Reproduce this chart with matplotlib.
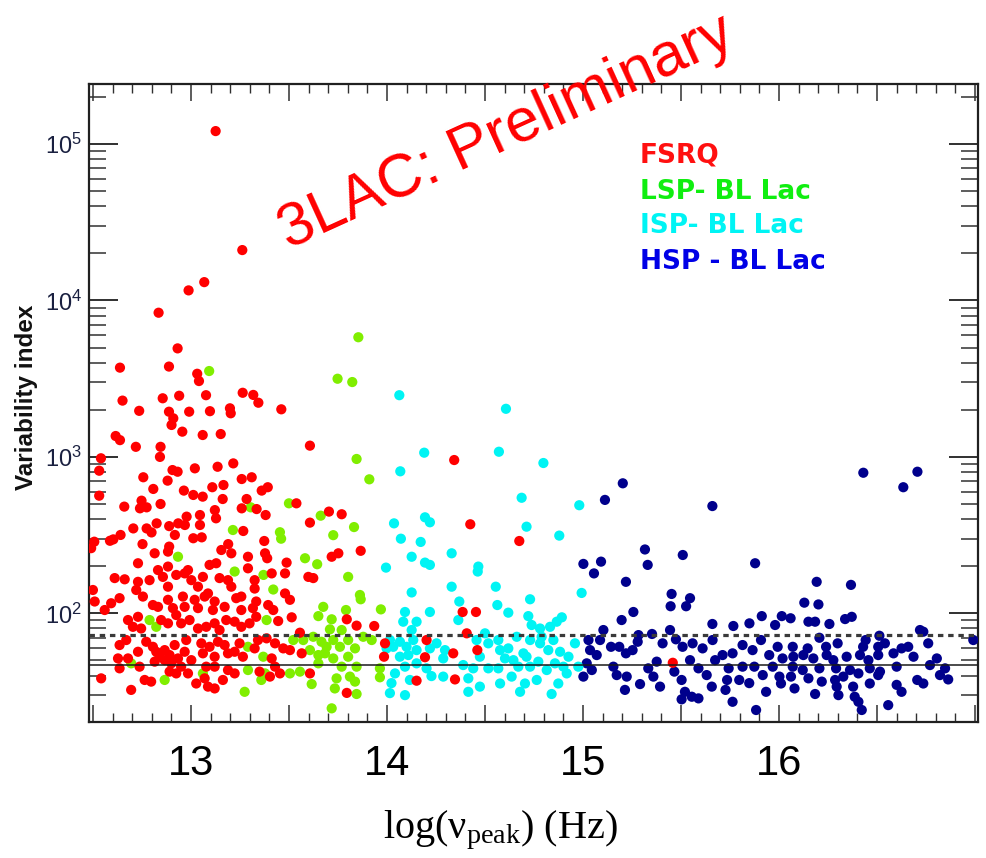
import matplotlib
matplotlib.use("Agg")
import matplotlib.pyplot as plt
from matplotlib.ticker import MultipleLocator, LogLocator, NullFormatter, FuncFormatter
import numpy as np

# (log10 nu_peak [Hz], variability index) for each blazar class
fsrq = [
    (13.126, 121000), (13.262, 21000), (12.988, 11600), (13.068, 13100), (12.835, 8350),
    (12.932, 4940), (12.638, 3720), (12.888, 3780), (13.032, 3400), (13.041, 3055),
    (12.651, 2290), (12.856, 2370), (12.940, 2460), (13.077, 2480), (13.264, 2570),
    (13.318, 2490), (13.344, 2220), (12.736, 1970), (12.888, 1945), (12.991, 1945),
    (13.097, 1960), (13.199, 2045), (13.203, 1900), (13.461, 2015), (12.910, 1765),
    (12.901, 1600), (12.956, 1450), (13.060, 1380), (13.152, 1400), (12.616, 1360),
    (12.638, 1280), (12.719, 1160), (12.845, 1160), (12.842, 1000), (12.541, 980),
    (12.532, 816), (12.532, 565), (12.757, 741), (12.906, 824), (12.932, 804),
    (12.881, 705), (13.020, 845), (13.136, 865), (13.216, 909), (13.259, 722),
    (13.310, 741), (12.808, 624), (12.964, 609), (13.012, 571), (13.109, 640),
    (13.166, 661), (13.060, 557), (13.162, 538), (13.361, 609), (13.392, 640),
    (13.284, 538), (12.748, 525), (12.845, 500), (12.740, 469), (12.774, 476),
    (12.660, 481), (13.538, 505), (13.335, 464), (13.381, 425), (13.259, 469),
    (13.122, 457), (13.046, 425), (12.978, 415), (12.969, 367), (13.046, 367),
    (13.128, 405), (12.825, 376), (12.935, 376), (12.889, 361), (12.774, 349),
    (12.706, 349), (12.799, 329), (13.267, 336), (12.641, 317), (12.604, 297),
    (12.587, 291), (12.507, 287), (12.918, 317), (13.012, 302), (13.055, 306),
    (13.374, 290), (12.753, 277), (13.190, 277), (12.889, 267),
    (12.491, 261), (12.815, 242), (12.883, 248), (13.155, 254), (13.206, 242),
    (13.291, 230), (12.730, 209), (12.832, 189), (12.883, 199), (12.985, 189),
    (13.095, 204), (13.129, 209), (13.291, 194), (12.611, 168), (12.662, 165),
    (12.730, 159), (12.721, 141), (12.789, 163), (12.857, 171), (12.883, 148),
    (12.925, 176), (12.968, 180), (13.002, 163), (13.036, 148), (13.061, 171),
    (13.087, 134), (13.146, 168), (13.189, 163), (13.206, 148), (13.231, 125),
    (13.257, 128), (13.325, 163), (13.325, 144), (12.500, 141), (12.509, 119),
    (12.560, 105), (12.593, 116), (12.636, 125), (12.755, 128), (12.806, 113),
    (12.832, 110), (12.883, 122), (12.908, 108), (12.959, 128), (12.968, 110),
    (13.019, 122), (13.036, 108), (13.070, 128), (13.121, 119), (13.112, 105),
    (13.172, 110), (13.257, 105), (13.316, 108), (13.333, 119),
    (12.679, 90.6), (12.730, 95), (12.704, 82), (12.746, 80), (12.848, 90.6),
    (12.883, 86.3), (12.925, 97.5), (12.950, 86.3), (12.993, 90.6), (13.036, 80),
    (13.078, 82), (13.121, 86.3), (13.146, 78.2), (13.180, 90.6), (13.223, 88.4),
    (13.257, 82), (13.299, 86.3), (13.333, 95),
    (12.636, 62.7), (12.670, 67.5), (12.628, 51.5), (12.679, 51.5), (12.730, 56.8),
    (12.772, 65.8), (12.806, 61.1), (12.823, 56.8), (12.840, 52.8), (12.866, 58.2),
    (12.891, 54.1), (12.917, 62.7), (12.934, 51.5), (12.866, 50.2), (12.815, 49.1),
    (12.900, 47.9), (12.976, 67.5), (12.968, 56.8), (13.002, 50.2), (13.053, 64.3),
    (13.061, 55.5), (13.095, 61.1), (13.121, 52.8), (13.138, 65.8), (13.172, 62.7),
    (13.189, 55.5), (13.223, 56.8), (13.248, 64.3), (13.265, 52.8), (13.325, 59.7),
    (13.342, 67.5),
    (12.542, 38.4), (12.636, 44.5), (12.695, 32.4), (12.738, 45.6), (12.764, 37.5),
    (12.797, 36.6), (12.891, 42.4), (12.925, 41.3), (12.985, 41.3), (12.950, 45.6),
    (13.027, 35.6), (13.070, 38.4), (13.087, 34), (13.121, 33.1), (13.078, 45.6),
    (13.121, 45.6), (13.163, 37.5), (13.189, 43.4), (13.223, 41.3), (13.350, 42.4),
    (13.607, 1180), (14.343, 955), (13.704, 447), (13.769, 430), (13.607, 380),
    (14.425, 371), (14.675, 290),
    (13.378, 242), (13.389, 225), (13.488, 211), (13.480, 180), (13.412, 180),
    (13.599, 171), (13.624, 168), (13.718, 230), (13.752, 242), (13.866, 251),
    (13.480, 134), (13.505, 122), (13.394, 113), (13.420, 105), (13.795, 91.6),
    (13.445, 89.3), (13.514, 94.3), (13.845, 83.4), (13.935, 83), (13.556, 75.2),
    (13.386, 69.2), (13.429, 64.3), (13.471, 59.7), (13.505, 58.2), (13.565, 55.5),
    (13.412, 51.5), (13.429, 45.6), (13.403, 39.4), (13.454, 41.3), (13.607, 41.3),
    (13.795, 31), (13.990, 64.3), (13.985, 52.8), (14.202, 67.5), (14.194, 52.4),
    (14.151, 37.1),
    (14.386, 102), (14.454, 102), (14.407, 74.5), (14.461, 58.2), (14.338, 55.5),
    (14.347, 37.8), (15.458, 48.3),
]

lsp_bllac = [
    (13.093, 3540), (12.934, 230), (13.223, 185), (12.789, 90.6), (12.823, 82),
    (13.291, 61.1), (12.695, 47.9), (12.866, 37.5), (13.061, 41.3), (13.291, 43.4),
    (13.274, 31.5), (13.359, 37.5), (13.214, 341), (13.305, 476), (13.454, 330),
    (13.460, 300), (13.500, 505), (13.370, 176),
    (13.854, 5820), (13.748, 3160), (13.823, 3010), (13.845, 970), (13.910, 719),
    (13.662, 421), (13.832, 356), (13.726, 316),
    (13.582, 225), (13.644, 206), (13.802, 171), (13.420, 142), (13.862, 131),
    (13.866, 123), (13.675, 110), (13.650, 96), (13.718, 91.6), (13.791, 105),
    (13.969, 106), (13.386, 90.6), (13.709, 79), (13.769, 78.2),
    (13.522, 67.5), (13.573, 67.5), (13.624, 70.8), (13.666, 65.8), (13.692, 61.1),
    (13.726, 67.5), (13.760, 61.1), (13.802, 67.5), (13.837, 59.7), (13.879, 70.8),
    (13.922, 67.5), (13.607, 58.2), (13.650, 54.1), (13.684, 55.5), (13.726, 51.5),
    (13.769, 45.6), (13.802, 52.8), (13.845, 45.6), (13.369, 52.8), (13.378, 41.3),
    (13.505, 41.3), (13.556, 42.4), (13.650, 47.9), (13.616, 35.3), (13.743, 38.4),
    (13.811, 39.4), (13.837, 36.6), (13.845, 30.5), (13.734, 33.1), (13.718, 24.7),
    (13.964, 44.5), (13.964, 39),
]

isp_bllac = [
    (14.063, 2480), (14.607, 2030), (14.190, 1064), (14.068, 809), (14.571, 1079),
    (14.798, 914), (14.687, 548), (14.981, 491), (14.036, 376), (14.194, 411),
    (14.219, 382), (14.071, 300), (14.712, 358), (14.879, 314), (14.172, 286),
    (13.995, 196), (14.126, 230), (14.194, 211), (14.219, 204), (14.126, 136),
    (14.092, 102), (14.083, 88.4), (14.151, 88.4), (14.219, 102), (14.126, 78.2),
    (14.015, 67.5), (14.032, 61.1), (14.066, 65.8), (14.100, 61.1), (14.134, 67.5),
    (14.151, 58.2), (14.219, 59.7), (14.253, 64.3), (14.066, 52.8), (14.109, 54.1),
    (14.092, 45.6), (14.151, 47.9), (14.202, 44.5), (14.041, 41.3), (14.023, 35.8),
    (14.015, 30.9), (14.092, 30), (14.117, 37.5), (14.227, 39.7), (13.998, 59.7),
    (14.330, 242), (14.466, 199), (14.463, 185), (14.330, 148), (14.555, 148),
    (14.369, 119), (14.730, 123), (14.563, 113), (14.619, 101), (14.721, 96),
    (14.364, 90.6), (14.738, 84.2), (14.781, 80), (14.832, 82), (14.866, 88.4),
    (14.892, 94.3), (14.993, 135),
    (14.500, 74.5), (14.457, 67.5), (14.517, 64.3), (14.568, 67.5), (14.577, 58.2),
    (14.619, 59.7), (14.662, 70.8), (14.696, 55.5), (14.730, 67.5), (14.781, 64.3),
    (14.789, 70.8), (14.823, 58.2), (14.849, 67.5), (14.883, 56.8), (14.926, 52.8),
    (14.959, 64.3), (14.296, 58.2), (14.287, 51.5), (14.389, 46.7), (14.440, 44.5),
    (14.474, 52.8), (14.517, 44.5), (14.568, 44.5), (14.602, 51.5), (14.645, 50.2),
    (14.670, 45.6), (14.712, 52.8), (14.730, 45.6), (14.772, 49.1), (14.815, 43.4),
    (14.857, 47.9), (14.900, 45.6), (14.917, 41.3), (14.976, 45.6), (14.287, 39.4),
    (14.415, 38.4), (14.415, 31.5), (14.474, 34), (14.577, 35.6), (14.636, 39.4),
    (14.679, 31.5), (14.704, 35.6), (14.764, 37.5), (14.840, 30.5), (14.874, 35.6),
]

hsp_bllac = [
    (15.203, 678), (15.112, 531), (16.430, 792), (16.706, 804), (16.634, 640),
    (15.660, 485),
    (15.002, 207), (15.092, 214), (15.056, 180), (15.028, 67.5), (15.036, 58.2),
    (15.104, 78.2), (15.087, 67.5), (15.070, 54.1), (15.019, 47.9), (15.045, 43.4),
    (15.002, 39.4),
    (15.316, 256), (15.330, 204), (15.509, 236), (15.878, 209), (15.219, 159),
    (15.452, 133), (15.546, 125), (15.447, 111), (15.526, 111), (15.257, 102),
    (15.197, 90.6), (15.660, 85.5), (15.767, 83), (15.849, 86.3), (15.912, 96),
    (15.980, 84.2), (16.014, 96), (15.444, 78.2), (15.352, 73.8), (15.283, 72.6),
    (15.143, 61.1), (15.185, 61.1), (15.219, 55.5), (15.253, 58.2), (15.279, 65.8),
    (15.406, 64.3), (15.474, 68.2), (15.508, 61.1), (15.559, 64.3), (15.610, 59.7),
    (15.661, 67.5), (15.712, 54.1), (15.763, 55.5), (15.814, 62.7), (15.865, 58.2),
    (15.908, 67.5), (15.950, 54.1), (15.993, 61.1), (16.018, 51.5),
    (15.155, 45.6), (15.172, 40.3), (15.223, 39.4), (15.214, 32.4), (15.291, 35.3),
    (15.333, 44.5), (15.359, 39.4), (15.393, 34), (15.376, 49.1), (15.466, 42.4),
    (15.503, 37.5), (15.520, 31.5), (15.503, 28.2), (15.555, 29.3), (15.589, 28.6),
    (15.546, 50.2), (15.589, 44.5), (15.631, 40.3), (15.657, 34), (15.674, 50.2),
    (15.743, 44.5), (15.735, 37.5), (15.727, 32.4), (15.763, 27.2), (15.797, 37.5),
    (15.814, 45.6), (15.848, 35.8), (15.874, 45.6), (15.934, 31.5), (15.883, 24.1),
    (15.917, 40.3), (15.968, 45.6), (16.002, 39.4), (16.010, 35.6),
    (16.192, 159), (16.367, 152), (16.129, 117), (16.201, 114), (16.059, 93),
    (16.150, 88.4), (16.184, 88.4), (16.257, 85.5), (16.337, 91.9), (16.371, 95),
    (16.719, 78.2), (16.736, 76.3), (16.512, 71.9), (16.206, 69.8), (16.991, 67.5),
    (16.442, 67.5), (16.070, 61.1), (16.146, 59.7), (16.240, 61.1), (16.299, 64.3),
    (16.429, 61.1), (16.506, 61.1), (16.540, 64.3), (16.625, 59.7), (16.659, 61.1),
    (16.761, 64.3), (16.584, 55.5), (16.686, 52.8), (16.805, 51.5), (16.073, 52.8),
    (16.124, 54.1), (16.175, 51.5), (16.243, 54.1), (16.277, 50.2), (16.345, 52.8),
    (16.413, 54.1), (16.456, 50.2), (16.506, 54.1), (16.070, 45.6), (16.121, 43.4),
    (16.206, 44.5), (16.291, 44.5), (16.362, 43.4), (16.463, 44.5), (16.515, 42.4),
    (16.600, 45.6), (16.770, 46.7), (16.847, 44.5), (16.061, 39.4), (16.150, 38.4),
    (16.218, 36.6), (16.286, 37.5), (16.328, 39.4), (16.405, 41.3), (16.506, 40.3),
    (16.821, 40.3), (16.863, 37.8), (16.705, 37.5), (16.736, 35.6), (16.600, 34.9),
    (16.625, 31.5), (16.079, 33.1), (16.184, 30.5), (16.294, 34), (16.303, 30),
    (16.378, 34), (16.386, 29.3), (16.405, 27.2), (16.422, 24.1), (16.557, 25.9),
    (16.463, 35.6),
]

class_names = ["FSRQ", "LSP- BL Lac", "ISP- BL Lac", "HSP - BL Lac"]
marker_colors = ["#ff0000", "#80ee00", "#00f4f4", "#00008c"]
label_colors = ["#ff1010", "#10ee10", "#00f4f4", "#0000e6"]

# significance thresholds of the variability index
var_threshold_99 = 72.44
var_threshold_dof = 47.0

x_tick_values = [13, 14, 15, 16]

fig = plt.figure(figsize=(9.86, 8.58), dpi=100)
fig.patch.set_facecolor("white")
ax = fig.add_axes([89 / 986, 1 - 722 / 858, (978 - 89) / 986, (722 - 84) / 858])

series = [fsrq, lsp_bllac, isp_bllac, hsp_bllac]
z_order = [6, 5, 4, 3]
for pts, col, z in zip(series, marker_colors, z_order):
    arr = np.array(pts, dtype=float)
    ax.scatter(arr[:, 0], arr[:, 1], s=54, c=col, edgecolors="none", zorder=z)

ax.axhline(var_threshold_99, color="#3a3a3a", lw=2.3, ls=(0, (1.7, 1.5)), zorder=8)
ax.axhline(var_threshold_dof, color="#1a1a1a", lw=1.1, zorder=8)

ax.set_yscale("log")
ax.set_xlim(12.48, 17.015)
ax.set_ylim(20.2, 2.42e5)

# ticks
ax.xaxis.set_major_locator(MultipleLocator(0.5))
ax.xaxis.set_minor_locator(MultipleLocator(0.1))
ax.xaxis.set_major_formatter(FuncFormatter(
    lambda v, p: f"{int(round(v))}" if any(abs(v - t) < 1e-6 for t in x_tick_values) else ""))
ax.yaxis.set_major_locator(LogLocator(base=10))
ax.yaxis.set_minor_locator(LogLocator(base=10, subs=np.arange(2, 10)))
ax.yaxis.set_minor_formatter(NullFormatter())

ax.tick_params(axis="both", which="both", direction="in", top=True, right=True,
               color="#303030")
ax.tick_params(axis="x", which="major", length=12, width=1.1, pad=16,
               labelsize=30)
ax.tick_params(axis="x", which="minor", length=6.5, width=1.0)
ax.tick_params(axis="y", which="major", length=21, width=1.4, pad=5,
               labelsize=17, labelcolor="#1a2040")
ax.tick_params(axis="y", which="minor", length=12, width=1.1)
for lab in ax.get_xticklabels():
    lab.set_fontfamily("Liberation Sans")
for lab in ax.get_yticklabels():
    lab.set_fontfamily("Liberation Sans")

for sp in ax.spines.values():
    sp.set_linewidth(1.6)
    sp.set_color("#202020")

# axis titles
plt.rcParams["mathtext.fontset"] = "custom"
plt.rcParams["mathtext.rm"] = "Liberation Serif"
plt.rcParams["mathtext.it"] = "Liberation Serif:italic"
fig.text(500 / 986, 1 - 830 / 858, r"log(ν$_{\rm peak}$) (Hz)", fontsize=29,
         family="Liberation Serif", ha="center", va="center")
fig.text(27 / 986, 1 - 397 / 858, "Variability index", rotation=90,
         fontsize=17.5, fontweight="bold", family="Liberation Sans",
         ha="center", va="center", color="#111111")

# class legend
baselines = [163, 199, 233, 269]
for name, col, yb in zip(class_names, label_colors, baselines):
    fig.text(640 / 986, 1 - yb / 858, name, color=col, fontsize=19,
             fontweight="bold", family="DejaVu Sans", ha="left", va="baseline")

# preliminary stamp
fig.text(506 / 986, 1 - 133 / 858, "3LAC: Preliminary", color="#ff0000",
         fontsize=44, family="Liberation Sans", rotation=24.5,
         rotation_mode="anchor", ha="center", va="center")

fig.savefig("out.png", dpi=100, facecolor="white")
